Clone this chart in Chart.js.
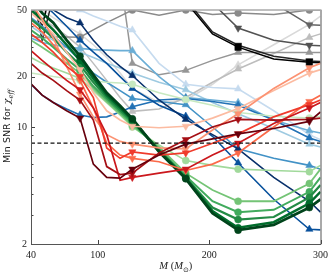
<!DOCTYPE html>
<html>
<head>
<meta charset="utf-8">
<script src="https://cdn.jsdelivr.net/npm/chart.js@4"></script>
<style>
  html, body { margin:0; padding:0; background:#fff; }
  canvas { display:block; }
</style>
</head>
<body>
<canvas id="c" width="333" height="277"></canvas>
<script>
// Masas (eje x) y marcas
const X = [40, 50, 60, 72, 84, 96, 108, 120, 131, 155, 179, 203, 226, 258, 290, 300];
const MARK_X = [84, 131, 179, 226, 290];
const X_TICKS = [40, 100, 200, 300];
const Y_TICKS = [2, 3, 4, 5, 6, 7, 8, 9, 10, 20, 30, 40, 50];
const Y_LABELS = [2, 10, 20, 50];
const THRESHOLD = 8;

// Verdes (círculos)
const G1 = [21, 20.5, 20, 19.5, 19, 18.8, 18.5, 18.3, 18, 16, 14.6, 13.5, 12.2, 11.6, 11.3, 11.6];
const G2 = [26, 24, 22.5, 21, 19.5, 16.5, 14, 11.8, 10, 7.8, 6.3, 5.9, 5.6, 5.5, 5.4, 5.9];
const G3 = [33, 30, 27, 24, 21, 17, 14.2, 12, 10.2, 7.6, 5.3, 4.2, 3.6, 3.6, 4.6, 5.6];
const G4 = [38, 34, 30, 25.5, 22, 17.5, 14.6, 12.3, 10.5, 7.4, 5.1, 3.6, 3.1, 3.2, 4.1, 5.0];
const G5 = [44, 39, 34, 28, 23.5, 18.5, 15, 12.6, 10.8, 7.3, 5.0, 3.3, 2.8, 2.9, 3.8, 4.5];
const G6 = [50, 44, 38, 31, 25, 19.5, 15.5, 13, 11, 7.2, 4.95, 3.15, 2.5, 2.7, 3.5, 4.1];
const G7 = [58, 48, 42, 33, 26.5, 20.5, 16, 13.4, 11.2, 7.1, 4.9, 3.05, 2.42, 2.6, 3.3, 3.7];

// Rojos (triángulo hacia abajo)
const R1 = [48, 42, 36, 28, 22, 16, 12.5, 11, 10.1, 9.9, 10.1, 11.3, 12.9, 16.5, 21, 22];
const R2 = [55, 44, 34, 23, 15.7, 11.5, 9, 8.2, 7.9, 7.5, 7.4, 9.6, 12, 17, 22.6, 24];
const R3 = [42, 37, 31, 25, 19, 13, 8, 6.8, 6.5, 6.2, 5.5, 6.0, 7.0, 10, 14.2, 15.5];
const R4 = [36, 32, 28, 23, 20, 15, 7.5, 6.5, 7.1, 6.8, 7.0, 8.0, 9.1, 11.5, 13.6, 14.5];
const R5 = [28.6, 25, 22, 19, 16.7, 13, 9, 4.8, 5.0, 5.3, 5.6, 6.8, 8, 10.5, 13, 14];
const R6 = [24, 21, 19, 16.5, 14.5, 11, 5.8, 5.2, 5.3, 7, 8.4, 10, 11.1, 11, 11.1, 11.3];
const R7 = [18.1, 15.5, 14, 12.5, 11.3, 6.0, 5.0, 4.95, 5.6, 6.8, 7.9, 8.5, 9.1, 9.8, 10.8, 12.3];

// Azules (triángulo hacia arriba)
const B1 = [70, 65, 60, 55, 50, 46, 43, 40, 38, 24, 18, 17.2, 16.9, 12.5, 9.0, 8.4];
const B2 = [40, 36, 33, 30, 28, 26, 24, 22.5, 21, 18.5, 16.7, 14, 12, 9.8, 7.9, 7.6];
const B3 = [34, 32, 31, 30, 29.5, 29, 28.8, 28.6, 28.6, 20, 15, 14.5, 14, 11, 9.5, 9.2];
const B4 = [45, 40, 35, 30, 25, 21, 18.5, 16.5, 14.8, 14.2, 13.6, 10, 7.4, 6.5, 5.9, 5.6];
const B5 = [18, 15.5, 14, 12.8, 11.8, 11.4, 11.5, 12.3, 13.2, 14.5, 14.8, 14.2, 13.5, 11, 8.6, 8.2];
const B6 = [65, 55, 48, 40, 33, 28, 24, 20, 17, 13.5, 11.6, 8.8, 6.1, 3.7, 2.45, 2.43];
const B7 = [70, 60, 50, 45, 41.9, 33, 27, 23, 20.3, 14.5, 11.1, 9, 7.4, 5.0, 3.6, 3.1];

// Grises
const K1 = [55, 50, 45, 40, 36, 31, 26, 21, 17, 14, 14.5, 18, 23.5, 31, 41, 46];
const K2 = [48, 44, 40, 35, 30, 24, 19, 15, 12.4, 12.8, 15, 18.5, 22.2, 27.5, 34.3, 36];
const K3 = [90, 90, 90, 90, 90, 90, 90, 80, 24, 20.5, 21.8, 25, 27.9, 27.9, 27.9, 27.9];
const K4 = [35, 34, 34.5, 34.5, 34.4, 38, 42, 46, 50, 46.5, 50, 47, 48, 47, 50, 50];
const K5 = [90, 90, 90, 90, 90, 90, 90, 90, 90, 90, 90, 90, 80, 55, 40.8, 40.5];
const K6 = [90, 90, 90, 90, 90, 90, 90, 90, 90, 90, 90, 55, 39, 33, 30.8, 30.6];
const K7 = [70, 33, 60, 90, 90, 90, 90, 90, 90, 90, 58, 37, 30.8, 26.5, 24.8, 24.6];
const K8 = [60, 40, 75, 90, 90, 90, 90, 90, 90, 90, 56, 36, 30, 25.5, 24.4, 24.2];

const GREYS = [K1, K2, K3, K4, K5, K6, K7, K8];
const BLUES = [B1, B2, B3, B4, B5, B6, B7];
const GREENS = [G1, G2, G3, G4, G5, G6, G7];
const REDS = [R1, R2, R3, R4, R5, R6, R7];

const GREY_C = ['#d9d9d9','#bdbdbd','#969696','#8a8a8a','#636363','#525252','#252525','#000000'];
const GREY_M = ['tri','tri','tri','circle','down','down','down','rect'];
const BLUE_C = ['#c6dbef','#9ecae1','#6baed6','#4292c6','#2171b5','#08519c','#08306b'];
const GREEN_C = ['#c7e9c0','#a1d99b','#74c476','#41ab5d','#238b45','#006d2c','#00441b'];
const GREEN_W = [1.5, 1.6, 1.8, 2.0, 2.2, 2.5, 2.8];
const RED_C = ['#fcbba1','#fc9272','#fb6a4a','#ef3b2c','#cb181d','#a50f15','#67000d'];

function serie(vals, color, mark, width){
  const style = mark === 'circle' ? 'circle' : (mark === 'rect' ? 'rect' : 'triangle');
  const r = mark === 'circle' ? 3.5 : (mark === 'rect' ? 4.6 : 4.2);
  return {
    data: vals.map((v, i)=> ({x: X[i], y: v})),
    borderColor: color,
    backgroundColor: color,
    borderWidth: width,
    pointBorderWidth: 0.5,
    pointStyle: style,
    rotation: mark === 'down' ? 180 : 0,
    pointRadius: ctx => (ctx.raw && MARK_X.includes(ctx.raw.x)) ? r : 0,
    tension: 0
  };
}

const datasets = [];
GREYS.forEach((s, i)=> datasets.push(serie(s, GREY_C[i], GREY_M[i], 1.5)));
BLUES.forEach((s, i)=> datasets.push(serie(s, BLUE_C[i], 'tri', 1.6)));
GREENS.forEach((s, i)=> datasets.push(serie(s, GREEN_C[i], 'circle', GREEN_W[i])));
REDS.forEach((s, i)=> datasets.push(serie(s, RED_C[i], 'down', 1.7)));
datasets.push({
  data: [{x: X[0], y: THRESHOLD}, {x: X[X.length-1], y: THRESHOLD}],
  borderColor: '#111', borderWidth: 1.2, borderDash: [4, 2.5], pointRadius: 0
});
// el último dataset queda encima
datasets.forEach((d, i)=> d.order = -i);

// Ticks hacia adentro, marco y títulos de ejes
const decor = {
  id: 'decor',
  afterDraw(chart){
    const {ctx, chartArea: a, scales: {x, y}} = chart;
    ctx.save();
    ctx.strokeStyle = '#444';
    ctx.lineWidth = 1;
    ctx.beginPath();
    X_TICKS.forEach(v=>{
      const px = Math.round(x.getPixelForValue(v)) + 0.5;
      ctx.moveTo(px, a.bottom); ctx.lineTo(px, a.bottom - 4);
    });
    Y_TICKS.forEach(v=>{
      const py = Math.round(y.getPixelForValue(v)) + 0.5;
      const len = Y_LABELS.includes(v) ? 4 : 2.5;
      ctx.moveTo(a.left, py); ctx.lineTo(a.left + len, py);
    });
    ctx.stroke();
    // marco
    ctx.strokeStyle = '#555';
    ctx.beginPath();
    ctx.moveTo(a.left + 0.5, a.top); ctx.lineTo(a.left + 0.5, a.bottom + 0.5);
    ctx.lineTo(a.right + 0.5, a.bottom + 0.5); ctx.lineTo(a.right + 0.5, a.top);
    ctx.stroke();
    ctx.strokeStyle = '#aaa';
    ctx.lineWidth = 1.5;
    ctx.beginPath();
    ctx.moveTo(a.left, a.top); ctx.lineTo(a.right + 1, a.top);
    ctx.stroke();

    // título x: M (M⊙)
    ctx.fillStyle = '#222';
    ctx.textBaseline = 'alphabetic';
    const it = 'italic 10.5px "Liberation Serif"', up = '10.5px "Liberation Serif"', sub = '7px "DejaVu Sans"';
    const parts = [[it, 'M', 0], [up, ' (', 0], [it, 'M', 0], [sub, '\u2299', 2.5], [up, ')', 0]];
    let w = 0;
    parts.forEach(p=>{ ctx.font = p[0]; w += ctx.measureText(p[1]).width; });
    let cx = (a.left + a.right) / 2 - w / 2;
    parts.forEach(p=>{ ctx.font = p[0]; ctx.fillText(p[1], cx, 269 + p[2]); cx += ctx.measureText(p[1]).width; });

    // título y: Min SNR for χeff
    ctx.translate(10, 163);
    ctx.rotate(-Math.PI / 2);
    let ty = 0;
    ctx.font = '9.5px "DejaVu Sans"';
    ctx.fillText('Min SNR for ', ty, 0); ty += ctx.measureText('Min SNR for ').width;
    ctx.font = 'italic 9.5px "DejaVu Serif"';
    ctx.fillText('\u03c7', ty, 0); ty += ctx.measureText('\u03c7').width;
    ctx.font = 'italic 7px "DejaVu Serif"';
    ctx.fillText('eff', ty, 2.5);
    ctx.restore();
  }
};

new Chart(document.getElementById('c'), {
  type: 'line',
  data: { datasets },
  options: {
    responsive: false,
    devicePixelRatio: 1,
    animation: false,
    events: [],
    layout: { padding: { top: 7, right: 12, left: 0, bottom: 0 } },
    plugins: { legend: { display: false }, tooltip: { enabled: false } },
    scales: {
      x: {
        type: 'linear', min: 40, max: 300,
        afterFit: s => { s.height = 33; },
        afterBuildTicks: s => { s.ticks = X_TICKS.map(v=> ({value: v})); },
        grid: { display: false, drawTicks: false },
        border: { display: false },
        ticks: { padding: 5, maxRotation: 0, autoSkip: false, color: '#222',
                 font: { family: 'Liberation Serif', size: 10 } }
      },
      y: {
        type: 'logarithmic', min: 2, max: 50,
        afterFit: s => { s.width = 31; },
        afterBuildTicks: s => { s.ticks = Y_TICKS.map(v=> ({value: v})); },
        grid: { display: false, drawTicks: false },
        border: { display: false },
        ticks: { padding: 4, autoSkip: false, color: '#222',
                 font: { family: 'Liberation Serif', size: 10 },
                 callback: v => Y_LABELS.includes(v) ? String(v) : '' }
      }
    }
  },
  plugins: [decor]
});
</script>
</body>
</html>
